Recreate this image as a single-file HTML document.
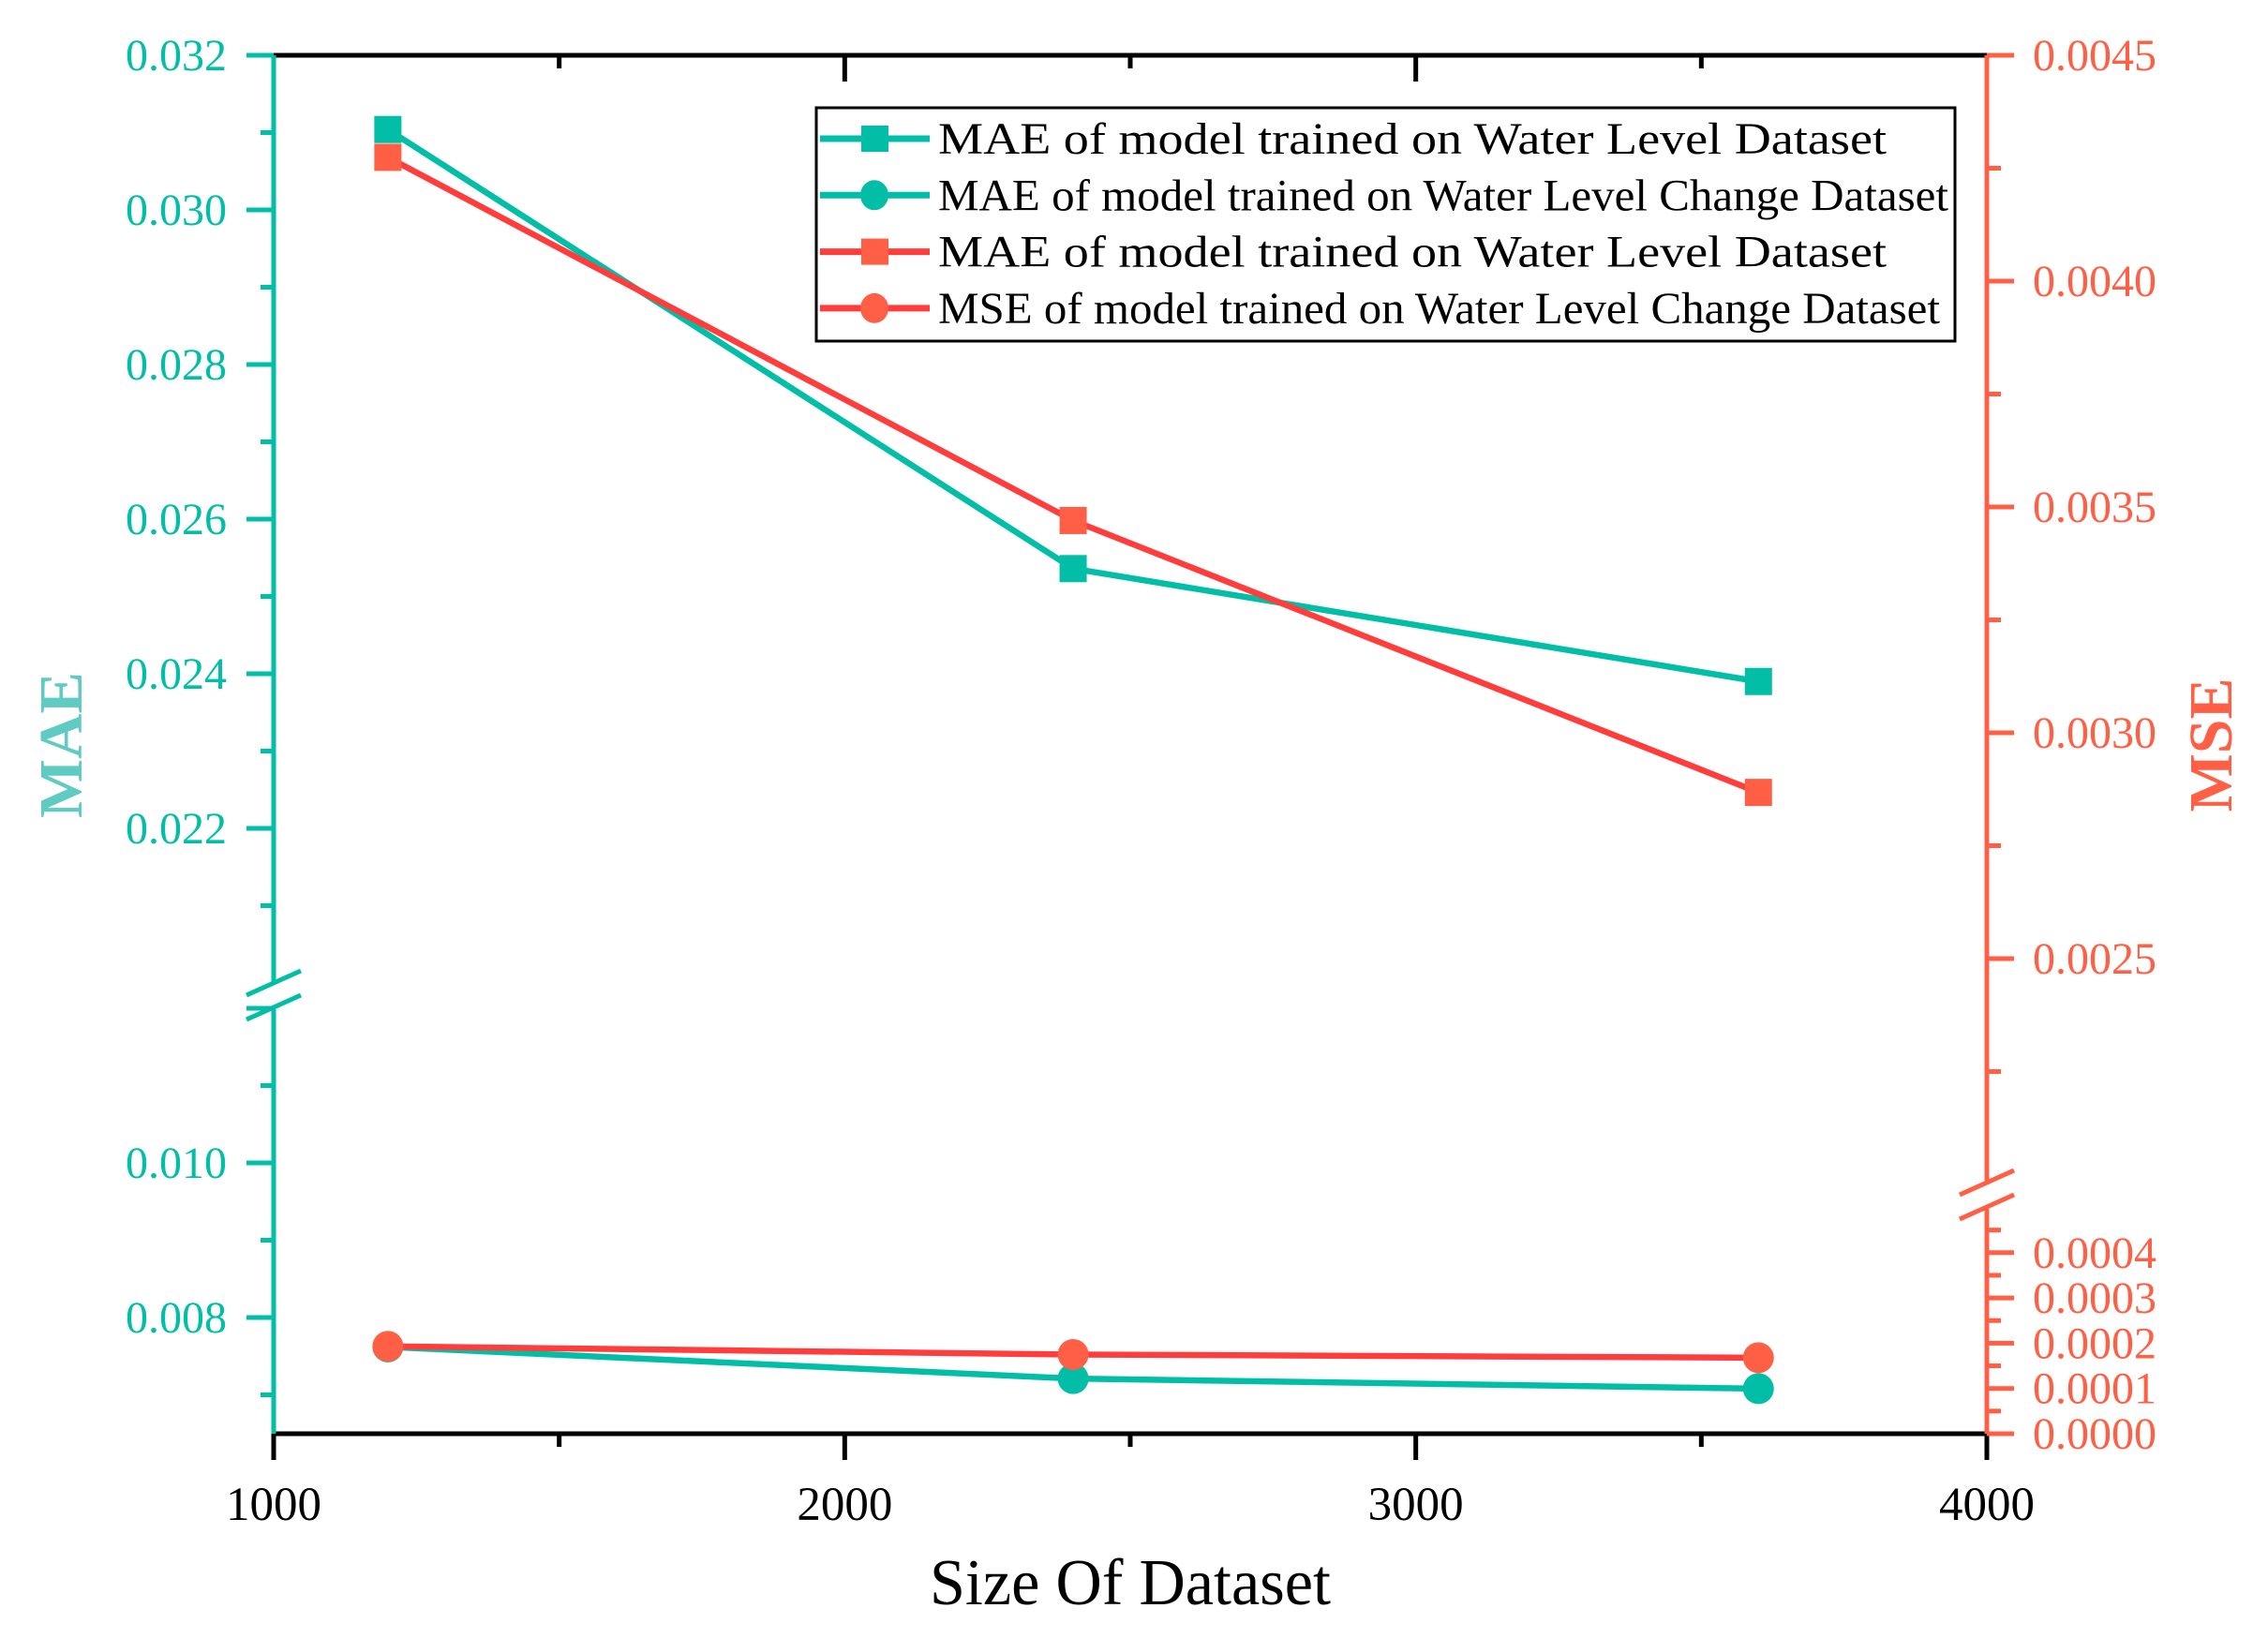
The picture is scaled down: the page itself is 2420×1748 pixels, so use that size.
<!DOCTYPE html>
<html><head><meta charset="utf-8"><style>
html,body{margin:0;padding:0;background:#fff;}
svg{display:block;font-family:"Liberation Serif",serif;}
</style></head><body>
<svg id="chart" width="2420" height="1748" viewBox="0 0 2420 1748" xmlns="http://www.w3.org/2000/svg">
<g id="axes"></g>
<g id="series"></g>
<g id="legend"></g>
<text x="1206" y="1712" font-size="70" text-anchor="middle" textLength="428" lengthAdjust="spacingAndGlyphs">Size Of Dataset</text>
<text transform="translate(87,795) rotate(-90)" font-size="66" font-weight="bold" fill="#5FCBC2" text-anchor="middle" textLength="156" lengthAdjust="spacingAndGlyphs">MAE</text>
<text transform="translate(2381,795) rotate(-90)" font-size="66" font-weight="bold" fill="#FF5F45" text-anchor="middle" textLength="143" lengthAdjust="spacingAndGlyphs">MSE</text>
</svg>
<script>
const xCategories = [1200, 2400, 3600];
const maeLevel = [0.03104, 0.02536, 0.0239];
const maeChange = [0.00762, 0.00721, 0.00708];
const mseLevel = [0.004274, 0.00347, 0.002868];
const mseChange = [0.000193, 0.000175, 0.000168];
const xTicks = [1000, 2000, 3000, 4000];
const leftTicksUpper = ["0.022", "0.024", "0.026", "0.028", "0.030", "0.032"];
const leftTicksLower = ["0.008", "0.010"];
const rightTicksUpper = ["0.0025", "0.0030", "0.0035", "0.0040", "0.0045"];
const rightTicksLower = ["0.0000", "0.0001", "0.0002", "0.0003", "0.0004"];
const legendLabels = ["MAE of model trained on Water Level Dataset","MAE of model trained on Water Level Change Dataset","MAE of model trained on Water Level Dataset","MSE of model trained on Water Level Change Dataset"];

const NS = "http://www.w3.org/2000/svg";
const L = 292, R = 2120, T = 59, B = 1530;
const TEAL = "#02BEA6", RED = "#FF3D3D", REDM = "#FF5F45";
function X(v){ return L + (v - 1000) * (R - L) / 3000; }
function YL(v){ return v >= 0.015 ? T + (0.032 - v) * 82500 : 1406 - (v - 0.008) * 82500; }
function YR(v){ return v >= 0.001 ? T + (0.0045 - v) * 482000 : B - v * 483000; }
function mk(parent, tag, attrs){ const e = document.createElementNS(NS, tag); for (const k in attrs) e.setAttribute(k, attrs[k]); parent.appendChild(e); return e; }
const axes = document.getElementById('axes'), series = document.getElementById('series'), legend = document.getElementById('legend');

let e = mk(axes, 'line', {x1:L-2, y1:T, x2:R+2, y2:T, stroke:'#000', 'stroke-width':5});
 
e = mk(axes, 'line', {x1:L, y1:B, x2:R+2, y2:B, stroke:'#000', 'stroke-width':5});
 
for (let v = 1000; v <= 4000; v += 500) {
  const major = v % 1000 === 0, len = major ? 28 : 14;
  e = mk(axes, 'line', {x1:X(v), y1:B, x2:X(v), y2:B + len, stroke:'#000', 'stroke-width':5});
   
  e = mk(axes, 'line', {x1:X(v), y1:T, x2:X(v), y2:T + len, stroke:'#000', 'stroke-width':5});
   
}
xTicks.forEach(v => {
  const t = mk(axes, 'text', {x:X(v), y:1622, 'font-size':51, 'text-anchor':'middle'}); t.textContent = v;
   
});

e = mk(axes, 'line', {x1:L, y1:T, x2:L, y2:1050, stroke:TEAL, 'stroke-width':5});
 
e = mk(axes, 'line', {x1:L, y1:1077, x2:L, y2:B, stroke:TEAL, 'stroke-width':5});
 
[[1036,1062],[1062,1088]].forEach(p => { e = mk(axes, 'line', {x1:L-29, y1:p[1], x2:L+29, y2:p[0], stroke:TEAL, 'stroke-width':5});
    });
for (let i = 0; i <= 12; i++) { const v = 0.020 + i * 0.001; if (v < 0.0205) continue; const y = YL(v), major = i % 2 === 0;
  e = mk(axes, 'line', {x1:L - (major ? 29 : 14), y1:y, x2:L, y2:y, stroke:TEAL, 'stroke-width':5});
    }
for (let i = 0; i <= 5; i++) { const v = 0.007 + i * 0.001; const y = YL(v), major = i % 2 === 1;
  e = mk(axes, 'line', {x1:L - (major ? 29 : 14), y1:y, x2:L, y2:y, stroke:TEAL, 'stroke-width':5});
    }
leftTicksUpper.concat(leftTicksLower).forEach(s => {
  const t = mk(axes, 'text', {x:242, y:YL(parseFloat(s)) + 16, 'font-size':48, 'text-anchor':'end', fill:TEAL}); t.textContent = s;
   
});

e = mk(axes, 'line', {x1:R, y1:T, x2:R, y2:1262, stroke:REDM, 'stroke-width':5});
 
e = mk(axes, 'line', {x1:R, y1:1290, x2:R, y2:B, stroke:REDM, 'stroke-width':5});
 
[[1249,1275],[1275,1301]].forEach(p => { e = mk(axes, 'line', {x1:R-29, y1:p[1], x2:R+29, y2:p[0], stroke:REDM, 'stroke-width':5});
    });
for (let i = 1; i <= 10; i++) { const v = 0.002 + i * 0.00025; const y = YR(v), major = i % 2 === 0;
  e = mk(axes, 'line', {x1:R, y1:y, x2:R + (major ? 29 : 15), y2:y, stroke:REDM, 'stroke-width':5});
    }
for (let i = 0; i <= 9; i++) { const v = i * 0.00005; const y = YR(v), major = i % 2 === 0;
  e = mk(axes, 'line', {x1:R, y1:y, x2:R + (major ? 29 : 15), y2:y, stroke:REDM, 'stroke-width':5});
    }
rightTicksUpper.concat(rightTicksLower).forEach(s => {
  const t = mk(axes, 'text', {x:2169, y:YR(parseFloat(s)) + 16, 'font-size':48, fill:REDM}); t.textContent = s;
   
});

function drawSeries(vals, yf, color, mcolor, shape, name){
  const g = mk(series, 'g', {});
   
  const pts = vals.map((v, i) => X(xCategories[i]) + ',' + yf(v)).join(' ');
  const pl = mk(g, 'polyline', {points:pts, fill:'none', stroke:color, 'stroke-width':6.5});
   
  vals.forEach((v, i) => { const cx = X(xCategories[i]), cy = yf(v); let m;
    if (shape === 'sq') m = mk(g, 'rect', {x:cx - 14.5, y:cy - 14.5, width:29, height:29, fill:mcolor});
    else m = mk(g, 'circle', {cx:cx, cy:cy, r:16.5, fill:mcolor});
      });
}
drawSeries(maeChange, YL, TEAL, TEAL, 'ci', 'mae-change-series');
drawSeries(mseChange, YR, RED, REDM, 'ci', 'mse-change-series');
drawSeries(maeLevel, YL, TEAL, TEAL, 'sq', 'mae-level-series');
drawSeries(mseLevel, YR, RED, REDM, 'sq', 'mse-level-series');

e = mk(legend, 'rect', {x:871, y:115, width:1215, height:249, fill:'#fff', stroke:'#000', 'stroke-width':3});
 
const lc = [[TEAL,TEAL,'sq'],[TEAL,TEAL,'ci'],[RED,REDM,'sq'],[RED,REDM,'ci']];
const tl = [1012, 1078, 1012, 1069];
legendLabels.forEach((s, i) => { const y = 148 + i * 60.3;
  const g = mk(legend, 'g', {});  
  mk(g, 'line', {x1:875, y1:y, x2:992, y2:y, stroke:lc[i][0], 'stroke-width':7});
  if (lc[i][2] === 'sq') mk(g, 'rect', {x:919, y:y - 14, width:29, height:28, fill:lc[i][1]});
  else mk(g, 'ellipse', {cx:933, cy:y, rx:15, ry:16, fill:lc[i][1]});
  const t = mk(g, 'text', {x:1001, y:y + 16, 'font-size':48, textLength:tl[i], lengthAdjust:'spacingAndGlyphs'}); t.textContent = s;
   
});
</script>
</body></html>
